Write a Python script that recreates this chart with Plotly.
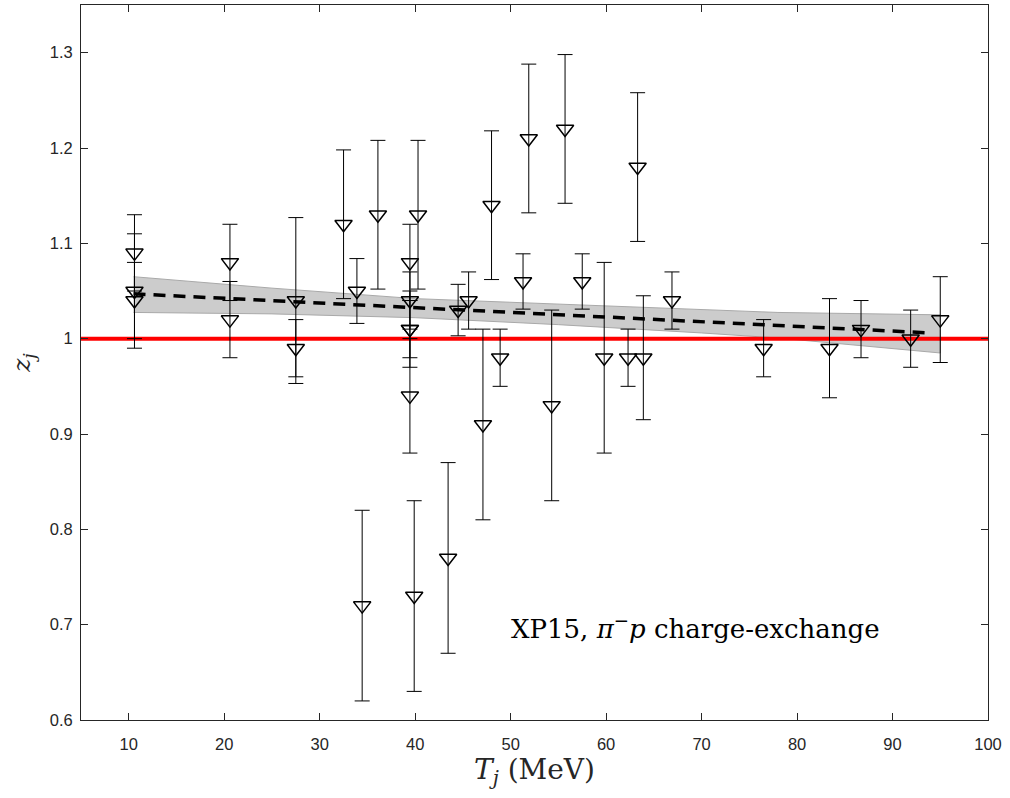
import plotly.graph_objects as go

# Data: energy T_j (MeV), z_j values and symmetric uncertainties
T = [10.6, 10.6, 10.6, 20.6, 20.6, 27.5, 27.5, 32.5, 33.9, 34.45,
     36.1, 39.45, 39.45, 39.45, 39.45, 39.45, 39.9, 40.3, 43.45, 44.5,
     45.6, 47.1, 48.0, 48.9, 51.3, 51.9, 54.3, 55.7, 57.5, 59.8,
     62.3, 63.3, 63.9, 66.9, 76.5, 83.4, 86.7, 91.9, 95.0]
z = [1.09, 1.05, 1.04, 1.08, 1.02, 1.04, 0.99, 1.12, 1.05, 0.72,
     1.13, 1.08, 1.04, 1.01, 1.01, 0.94, 0.73, 1.13, 0.77, 1.03,
     1.04, 0.91, 1.14, 0.98, 1.06, 1.21, 0.93, 1.22, 1.06, 0.98,
     0.98, 1.18, 0.98, 1.04, 0.99, 0.99, 1.01, 1.00, 1.02]
dz = [0.04, 0.06, 0.04, 0.04, 0.04, 0.087, 0.03, 0.078, 0.034, 0.10,
      0.078, 0.04, 0.03, 0.04, 0.03, 0.06, 0.10, 0.078, 0.10, 0.027,
      0.03, 0.10, 0.078, 0.03, 0.029, 0.078, 0.10, 0.078, 0.029, 0.10,
      0.03, 0.078, 0.065, 0.03, 0.03, 0.052, 0.03, 0.03, 0.045]

# Linear fit and its uncertainty band
fit_x = [10.5, 94.0]
fit_y = [1.047, 1.006]
band_x = [10.5, 25, 40, 55, 70, 78, 95]
band_upper = [1.065, 1.053, 1.042, 1.036, 1.030, 1.0275, 1.025]
band_lower = [1.0275, 1.026, 1.022, 1.0147, 1.006, 1.0007, 0.985]

x_ticks = [10, 20, 30, 40, 50, 60, 70, 80, 90, 100]
y_ticks = [0.6, 0.7, 0.8, 0.9, 1.0, 1.1, 1.2, 1.3]
y_tick_labels = ["0.6", "0.7", "0.8", "0.9", "1", "1.1", "1.2", "1.3"]
x_range = [5, 100]
y_range = [0.6, 1.35]

fig = go.Figure()

fig.add_trace(go.Scatter(
    x=band_x + band_x[::-1],
    y=band_upper + band_lower[::-1],
    fill="toself", fillcolor="#cccccc",
    line=dict(color="#a9a9a9", width=1),
    mode="lines", hoverinfo="skip", showlegend=False))

fig.add_trace(go.Scatter(
    x=x_range, y=[1, 1], mode="lines",
    line=dict(color="#ff0000", width=4), showlegend=False))

fig.add_trace(go.Scatter(
    x=T, y=z, mode="markers",
    marker=dict(symbol="triangle-down-open", size=15, color="black",
                line=dict(width=1.5, color="black")),
    error_y=dict(type="data", array=dz, visible=True, color="black",
                 thickness=1, width=7.5),
    showlegend=False))

fig.add_trace(go.Scatter(
    x=fit_x, y=fit_y, mode="lines",
    line=dict(color="black", width=3.5, dash="12px,8px"),
    showlegend=False))

axis_common = dict(
    showgrid=False, zeroline=False, showline=True, mirror="ticks",
    linecolor="#262626", linewidth=1, ticks="inside", ticklen=7,
    tickcolor="#262626", tickwidth=1,
    tickfont=dict(family="Liberation Sans", size=16.5, color="#262626"))

fig.update_xaxes(range=x_range, tickvals=x_ticks, ticklabelstandoff=9,
                 title=dict(text="<i>T</i><sub><i>j</i></sub> (MeV)",
                            font=dict(family="DejaVu Serif", size=28, color="#262626"),
                            standoff=1),
                 **axis_common)
fig.update_yaxes(range=y_range, tickvals=y_ticks, ticktext=y_tick_labels,
                 ticklabelstandoff=4,
                 title=dict(text="<i>z</i><sub><i>j</i></sub>",
                            font=dict(family="DejaVu Serif", size=25, color="#262626"),
                            standoff=12),
                 **axis_common)

fig.add_annotation(x=69.4, y=0.698, xref="x", yref="y",
                   text="XP15, <i>π</i><sup>−</sup><i>p</i> charge-exchange",
                   showarrow=False,
                   font=dict(family="DejaVu Serif", size=26, color="black"))

fig.update_layout(width=1010, height=798,
                  margin=dict(l=81, r=22, t=5, b=78),
                  plot_bgcolor="white", paper_bgcolor="white")

fig.write_html("out.html", config={"displayModeBar": False},
               post_script="document.body.style.margin='0px';")
